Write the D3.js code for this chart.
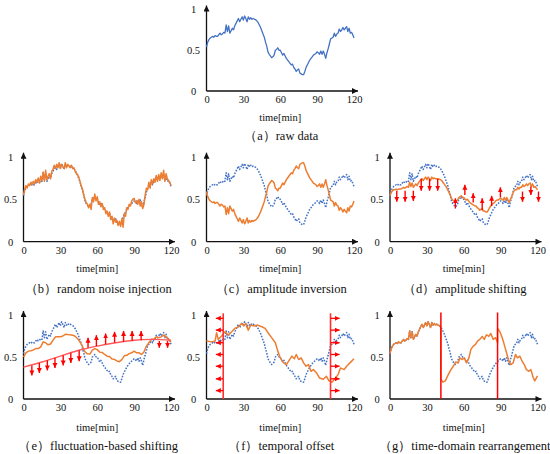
<!DOCTYPE html>
<html>
<head>
<meta charset="utf-8">
<script src="https://cdn.jsdelivr.net/npm/d3@7"></script>
<style>
body{margin:0;background:#fff}
svg text{font-family:"Times New Roman","Liberation Serif","DejaVu Serif",serif;fill:#111}
</style>
</head>
<body>
<svg id="chart" width="550" height="454"></svg>
<script>
// raw series, one value per minute (0..120)
var rawData = [0.54,0.60,0.63,0.65,0.66,0.67,0.66,0.68,0.67,0.67,
 0.69,0.71,0.69,0.70,0.72,0.71,0.81,0.73,0.80,0.71,
 0.74,0.77,0.75,0.80,0.83,0.86,0.89,0.85,0.88,0.91,
 0.87,0.92,0.89,0.85,0.91,0.88,0.90,0.88,0.89,0.88,
 0.875,0.86,0.84,0.81,0.78,0.74,0.70,0.66,0.60,0.55,
 0.48,0.45,0.43,0.41,0.42,0.44,0.50,0.51,0.53,0.50,
 0.50,0.47,0.44,0.46,0.43,0.40,0.38,0.36,0.34,0.32,
 0.33,0.29,0.27,0.24,0.26,0.27,0.22,0.21,0.20,0.20,
 0.24,0.29,0.32,0.35,0.38,0.40,0.42,0.44,0.45,0.46,
 0.48,0.47,0.45,0.49,0.45,0.49,0.45,0.40,0.47,0.52,
 0.58,0.64,0.65,0.66,0.71,0.67,0.70,0.71,0.76,0.73,
 0.75,0.78,0.75,0.77,0.79,0.73,0.77,0.71,0.72,0.69,
 0.65]

// (b) noise injected, per minute
var noiseData = [0.55,0.62,0.66,0.63,0.68,0.66,0.70,0.67,0.71,0.68,
 0.73,0.70,0.75,0.69,0.77,0.72,0.82,0.71,0.84,0.73,
 0.77,0.80,0.74,0.83,0.85,0.90,0.86,0.91,0.87,0.93,
 0.86,0.91,0.88,0.86,0.93,0.87,0.91,0.89,0.87,0.90,
 0.86,0.87,0.83,0.80,0.79,0.76,0.71,0.65,0.62,0.55,
 0.50,0.46,0.44,0.40,0.44,0.38,0.52,0.47,0.56,0.48,
 0.53,0.44,0.47,0.41,0.45,0.38,0.40,0.33,0.36,0.30,
 0.35,0.26,0.30,0.21,0.28,0.23,0.25,0.19,0.24,0.18,
 0.27,0.17,0.33,0.30,0.40,0.38,0.44,0.42,0.48,0.50,
 0.51,0.46,0.48,0.44,0.50,0.42,0.47,0.39,0.44,0.55,
 0.63,0.61,0.70,0.63,0.73,0.68,0.74,0.70,0.78,0.71,
 0.79,0.72,0.81,0.74,0.84,0.71,0.80,0.74,0.72,0.70,
 0.66]

// (c) inverted, per minute
var invertData = [0.59,0.53,0.50,0.48,0.47,0.46,0.47,0.45,0.46,0.46,
 0.44,0.42,0.44,0.43,0.41,0.42,0.32,0.40,0.33,0.42,
 0.39,0.36,0.38,0.33,0.30,0.27,0.24,0.28,0.25,0.22,
 0.26,0.21,0.24,0.28,0.22,0.25,0.23,0.25,0.24,0.25,
 0.255,0.27,0.29,0.32,0.35,0.39,0.43,0.47,0.53,0.58,
 0.65,0.68,0.70,0.72,0.71,0.69,0.63,0.62,0.60,0.63,
 0.63,0.66,0.69,0.67,0.70,0.73,0.75,0.77,0.79,0.81,
 0.80,0.84,0.86,0.89,0.87,0.86,0.91,0.92,0.93,0.93,
 0.89,0.84,0.81,0.78,0.75,0.73,0.71,0.69,0.68,0.67,
 0.65,0.66,0.68,0.64,0.68,0.64,0.68,0.73,0.66,0.61,
 0.55,0.49,0.48,0.47,0.42,0.46,0.43,0.42,0.37,0.40,
 0.38,0.35,0.38,0.36,0.34,0.40,0.36,0.42,0.41,0.44,
 0.48]

// (d) amplitude shifted, per minute
var shiftData = [0.54,0.58,0.60,0.61,0.61,0.62,0.61,0.62,0.62,0.62,
 0.63,0.64,0.63,0.64,0.65,0.64,0.70,0.65,0.69,0.64,
 0.66,0.68,0.66,0.69,0.71,0.73,0.74,0.72,0.74,0.76,
 0.73,0.76,0.74,0.72,0.76,0.74,0.75,0.74,0.74,0.74,
 0.735,0.73,0.72,0.70,0.68,0.66,0.64,0.61,0.58,0.55,
 0.51,0.49,0.48,0.47,0.48,0.49,0.52,0.53,0.54,0.52,
 0.52,0.50,0.49,0.50,0.48,0.46,0.45,0.44,0.43,0.42,
 0.42,0.40,0.39,0.37,0.38,0.39,0.36,0.36,0.35,0.35,
 0.37,0.40,0.42,0.44,0.45,0.46,0.48,0.49,0.49,0.50,
 0.51,0.50,0.49,0.52,0.49,0.52,0.49,0.46,0.50,0.53,
 0.57,0.60,0.61,0.61,0.64,0.62,0.64,0.64,0.67,0.65,
 0.66,0.68,0.66,0.68,0.69,0.65,0.68,0.64,0.65,0.63,
 0.61]
var shiftArrowTime = [5.5,12.3,19,25.4,32.2,38.8,53.2,60.9,67.7,75,82.7,89.8,107.8,114.6,120.8]
var shiftArrowFrom = [0.60,0.60,0.60,0.74,0.74,0.74,0.39,0.55,0.46,0.37,0.42,0.52,0.59,0.65,0.59]
var shiftArrowTo   = [0.47,0.47,0.48,0.60,0.60,0.60,0.51,0.67,0.57,0.51,0.54,0.64,0.47,0.55,0.47]

// (e) fluctuation-based shifting, every 2 minutes
var fluctData = [0.50,0.55,0.57,0.575,0.584,0.60,0.60,0.62,0.68,0.67,
 0.645,0.655,0.70,0.74,0.74,0.74,0.75,0.77,0.767,0.766,
 0.76,0.747,0.718,0.677,0.625,0.563,0.538,0.535,0.583,0.60,
 0.588,0.558,0.555,0.53,0.51,0.507,0.476,0.473,0.453,0.444,
 0.468,0.514,0.52,0.54,0.55,0.57,0.55,0.55,0.53,0.56,
 0.63,0.67,0.71,0.71,0.74,0.73,0.74,0.76,0.74,0.71,
 0.68]
var trendTime  = [0,15,30,45,60,75,90,105,120]
var trendValue = [0.38,0.44,0.51,0.58,0.63,0.67,0.70,0.71,0.70]
var fluctArrowTime = [6.8,12.9,19.4,25.6,32.3,38.5,45.3,52.5,59.3,66.8,74.1,81.4,88.4,95.7,110.5,117.2]
var fluctArrowFrom = [0.40,0.43,0.46,0.49,0.52,0.55,0.58,0.61,0.63,0.65,0.67,0.68,0.69,0.70,0.69,0.69]
var fluctArrowTo   = [0.28,0.31,0.34,0.37,0.40,0.43,0.45,0.73,0.76,0.78,0.80,0.81,0.81,0.81,0.61,0.61]

// (f) temporal offset
var offsetTime  = [0,4,7,8.2,9.5,12.3,15,17.7,20.5,23,26,28.6,30.5,32,34,36,38.7,41.5,45,47.7,
 50.5,53,56,58,60,62.7,65,66.8,69.5,71.5,73,75,77,79,81,83,85,87,89.5,92,
 95,97.6,99.5,102,105,107,109,112,114,116.7,120]
var offsetValue = [0.69,0.68,0.69,0.79,0.71,0.75,0.80,0.76,0.80,0.84,0.86,0.90,0.87,0.90,0.82,0.88,0.87,0.88,0.86,0.84,
 0.78,0.73,0.67,0.57,0.49,0.43,0.41,0.45,0.51,0.48,0.53,0.47,0.49,0.43,0.39,0.41,0.33,0.35,0.31,0.25,
 0.235,0.27,0.22,0.20,0.25,0.29,0.37,0.35,0.39,0.43,0.48]
var offsetLines = [13.6,100.9]
var offsetArrowTip = [7.6,108.3]
var offsetArrowLevel = [0.96,0.82,0.67,0.53,0.39,0.24,0.10]

// (g) time-domain rearrangement
var rearrTime  = [0,1,2,3,4,5,6,7,8,9,10,11,12,13,14,15,16,17,18,19,20,21,22,23,24,25,26,27,28,29,
 30,31,32,33,34,35,36,37,38,39,40,41,41.4,
 41.4,43,45,47.4,49.6,51.5,53.4,55.5,56.9,58.8,60.4,62.3,64.2,65.8,67.7,69.6,71.2,73.1,75,76.7,78.5,80.4,82,84,85.9,87.5,
 87.5,89.4,91.3,92.9,94.8,96.7,98.3,100.2,102.1,103.7,105.6,107.5,109.2,111,113,114.6,116.5,117.8,120]
var rearrValue = [0.54,0.60,0.63,0.65,0.66,0.67,0.66,0.68,0.67,0.67,0.69,0.71,0.69,0.70,0.72,0.71,0.81,0.73,0.80,0.71,
 0.74,0.77,0.75,0.80,0.83,0.86,0.89,0.85,0.88,0.91,0.87,0.92,0.89,0.85,0.91,0.88,0.90,0.88,0.89,0.88,
 0.875,0.86,0.85,
 0.235,0.20,0.215,0.29,0.35,0.39,0.44,0.43,0.49,0.47,0.49,0.43,0.49,0.59,0.63,0.65,0.69,0.71,0.745,0.71,0.765,0.745,0.78,0.71,0.73,0.67,
 0.84,0.80,0.73,0.65,0.55,0.45,0.41,0.43,0.53,0.49,0.51,0.45,0.41,0.35,0.33,0.35,0.255,0.215,0.275]
var rearrLines = [41.4,87.5]

var xTicks = [0,30,60,90,120]
var yTicks = [0,0.5,1]
var captions = ["（a）raw data","（b）random noise injection","（c）amplitude inversion","（d）amplitude shifting",
  "（e）fluctuation-based shifting","（f）temporal offset","（g）time-domain rearrangement"]

var blue = "#4472c4", orange = "#ed7d31", red = "#ff0000"
var serif = "'Times New Roman','Liberation Serif','DejaVu Serif',serif"
var svg = d3.select("#chart")

var defs = svg.append("defs")
defs.append("marker").attr("id","axisArrow").attr("viewBox","0 0 10 10").attr("refX",10).attr("refY",5)
  .attr("markerWidth",7).attr("markerHeight",6).attr("markerUnits","userSpaceOnUse").attr("orient","auto")
  .append("path").attr("d","M0,0L10,5L0,10z").attr("fill","#111")
defs.append("marker").attr("id","redArrow").attr("viewBox","0 0 10 10").attr("refX",10).attr("refY",5)
  .attr("markerWidth",5).attr("markerHeight",6).attr("markerUnits","userSpaceOnUse").attr("orient","auto")
  .append("path").attr("d","M0,0L10,5L0,10z").attr("fill",red)

var cols = [23.5,206.5,390], plotW = 147.5
var rows = [
  {bottom:91, top:9.5, title:117, cap:136},
  {bottom:241.7, top:156.7, title:268, cap:288.5},
  {bottom:399, top:315, title:426.5, cap:446}
]
var layout = [[1,0],[0,1],[1,1],[2,1],[0,2],[1,2],[2,2]]

function makePanel(i){
  var c = cols[layout[i][0]], r = rows[layout[i][1]]
  var x = d3.scaleLinear().domain([0,120]).range([c, c+plotW])
  var y = d3.scaleLinear().domain([0,1]).range([r.bottom, r.top])
  var g = svg.append("g")

  var xa = g.append("g").attr("transform","translate(0,"+r.bottom+")")
    .call(d3.axisBottom(x).tickValues(xTicks).tickSize(0).tickPadding(5))
  var ya = g.append("g").attr("transform","translate("+c+",0)")
    .call(d3.axisLeft(y).tickValues(yTicks).tickSize(0).tickFormat(d3.format("~g")))
  xa.select(".domain").remove()
  ya.select(".domain").remove()
  xa.attr("font-family",serif).attr("font-size",10.5)
  ya.attr("font-family",serif).attr("font-size",10.5)
  xa.selectAll("text").attr("fill","#111")
  ya.selectAll("text").attr("fill","#111").attr("text-anchor","middle").attr("x",-13)

  g.append("line").attr("x1",x(0)).attr("y1",y(0)).attr("x2",x(0)).attr("y2",y(1)-4)
    .attr("stroke","#111").attr("stroke-width",1.3).attr("marker-end","url(#axisArrow)")
  g.append("line").attr("x1",x(0)).attr("y1",y(0)).attr("x2",x(120)+4).attr("y2",y(0))
    .attr("stroke","#111").attr("stroke-width",1.3).attr("marker-end","url(#axisArrow)")

  g.append("text").attr("x",c+plotW/2).attr("y",r.title+4).attr("text-anchor","middle")
    .attr("font-family",serif).attr("font-size",10.5).text("time[min]")
  g.append("text").attr("x",c+plotW/2+1).attr("y",r.cap+4).attr("text-anchor","middle")
    .attr("font-family",serif).attr("font-size",12.5).text(captions[i])
  return {g:g, x:x, y:y}
}

function drawLine(p, times, values, color, dotted, curve){
  var line = d3.line().x(function(d){return p.x(d[0])}).y(function(d){return p.y(d[1])})
  if(curve) line.curve(curve)
  var pts = times.map(function(t,i){return [t, values[i]]})
  var path = p.g.append("path").datum(pts).attr("d",line).attr("fill","none")
    .attr("stroke",color).attr("stroke-width",1.5).attr("stroke-linejoin","round")
  if(dotted) path.attr("stroke-dasharray","1.6,1.4")
  return path
}

function drawArrows(p, ts, from, to){
  for(var i in ts){
    p.g.append("line").attr("x1",p.x(ts[i])).attr("x2",p.x(ts[i]))
      .attr("y1",p.y(from[i])).attr("y2",p.y(to[i]))
      .attr("stroke",red).attr("stroke-width",1.4).attr("marker-end","url(#redArrow)")
  }
}

var minutes = d3.range(0,121,1)
var twoMin = d3.range(0,121,2)

// (a)
var pa = makePanel(0)
drawLine(pa, minutes, rawData, blue, false).attr("stroke-width",1.3)

// (b)
var pb = makePanel(1)
drawLine(pb, minutes, rawData, blue, true)
drawLine(pb, minutes, noiseData, orange, false)

// (c)
var pc = makePanel(2)
drawLine(pc, minutes, rawData, blue, true)
drawLine(pc, minutes, invertData, orange, false)

// (d)
var pd = makePanel(3)
drawLine(pd, minutes, rawData, blue, true)
drawLine(pd, minutes, shiftData, orange, false)
drawArrows(pd, shiftArrowTime, shiftArrowFrom, shiftArrowTo)

// (e)
var pe = makePanel(4)
drawLine(pe, minutes, rawData, blue, true)
drawLine(pe, twoMin, fluctData, orange, false)
drawLine(pe, trendTime, trendValue, "#ff5a5a", false, d3.curveNatural).attr("stroke-width",1.4)
drawArrows(pe, fluctArrowTime, fluctArrowFrom, fluctArrowTo)

// (f)
var pf = makePanel(5)
drawLine(pf, minutes, rawData, blue, true)
drawLine(pf, offsetTime, offsetValue, orange, false)
offsetLines.forEach(function(t,k){
  pf.g.append("line").attr("x1",pf.x(t)).attr("x2",pf.x(t)).attr("y1",pf.y(0)).attr("y2",pf.y(1.02))
    .attr("stroke","#ff3030").attr("stroke-width",1.6)
  offsetArrowLevel.forEach(function(v){
    pf.g.append("line").attr("x1",pf.x(t)).attr("x2",pf.x(offsetArrowTip[k]))
      .attr("y1",pf.y(v)).attr("y2",pf.y(v))
      .attr("stroke",red).attr("stroke-width",1.3).attr("marker-end","url(#redArrow)")
  })
})

// (g)
var pg = makePanel(6)
drawLine(pg, minutes, rawData, blue, true)
drawLine(pg, rearrTime, rearrValue, orange, false)
rearrLines.forEach(function(t){
  pg.g.append("line").attr("x1",pg.x(t)).attr("x2",pg.x(t)).attr("y1",pg.y(0)).attr("y2",pg.y(1.03))
    .attr("stroke",red).attr("stroke-width",1.5)
})
</script>
</body>
</html>
